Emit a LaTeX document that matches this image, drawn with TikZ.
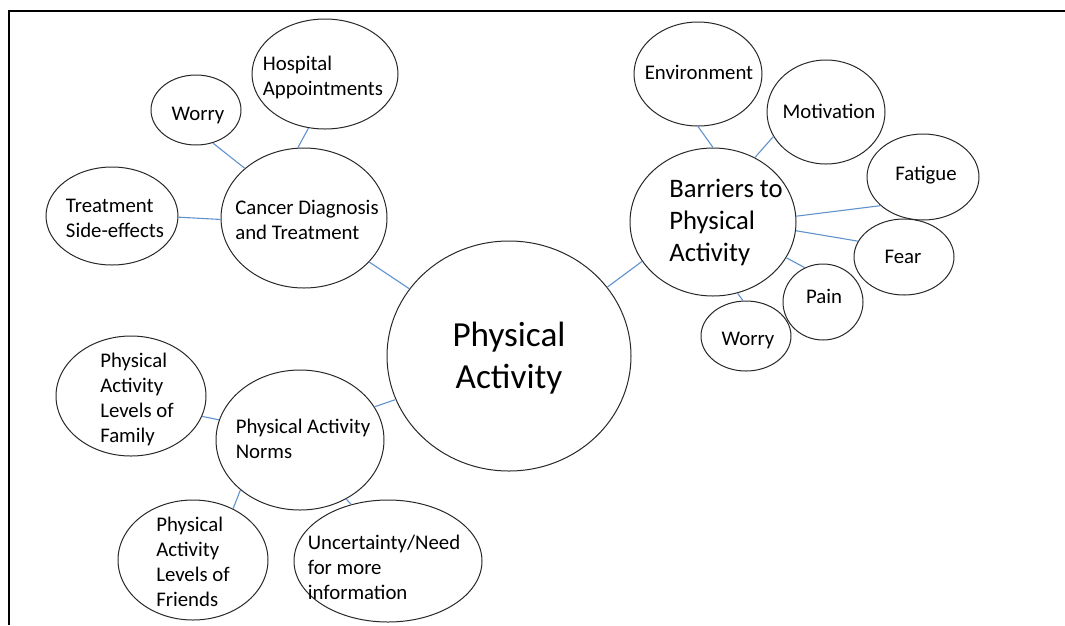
\documentclass[tikz,border=0pt]{standalone}
\usepackage{fontspec}
\setmainfont{Carlito}
\usetikzlibrary{shapes.geometric}
\definecolor{linkblue}{RGB}{96,146,206}
\definecolor{rimgray}{RGB}{40,40,40}
\tikzset{
  bubble/.style={ellipse, draw=rimgray, line width=1pt, inner sep=0pt, fill=white},
  lbl/.style={align=left, inner sep=0pt, font=\fontsize{20.8pt}{25pt}\selectfont},
  biglbl/.style={align=left, inner sep=0pt, font=\fontsize{26.7pt}{32pt}\selectfont},
  hugelbl/.style={align=center, inner sep=0pt, font=\fontsize{35.2pt}{42pt}\selectfont},
  link/.style={draw=linkblue, line width=1.1pt},
  frame/.style={draw=black, line width=2pt}
}
\begin{document}
\begin{tikzpicture}[x=1pt,y=-1pt]
\useasboundingbox (0,0) rectangle (1065,625);
% frame (top and left edges)
\coordinate (fTR) at (1065,10.5);
\coordinate (fTL) at (9,10.5);
\coordinate (fBL) at (9,625);
\draw[frame] (fTR) -- (fTL) -- (fBL);

% ellipses
\node[bubble, minimum width=146pt, minimum height=110pt] (hosp) at (325,74) {};
\node[bubble, minimum width=90pt, minimum height=70pt] (worryA) at (196,110) {};
\node[bubble, minimum width=132pt, minimum height=98pt] (treat) at (112,216) {};
\node[bubble, minimum width=166pt, minimum height=140pt] (cancer) at (304,218) {};
\node[bubble, minimum width=244pt, minimum height=230pt] (main) at (509,356) {};
\node[bubble, minimum width=166pt, minimum height=148pt] (barr) at (713,222) {};
\node[bubble, minimum width=128pt, minimum height=104pt] (env) at (698,74) {};
\node[bubble, minimum width=118pt, minimum height=104pt] (motiv) at (826,112) {};
\node[bubble, minimum width=112pt, minimum height=86pt] (fatig) at (923,177) {};
\node[bubble, minimum width=100pt, minimum height=76pt] (fear) at (904,257) {};
\node[bubble, minimum width=80pt, minimum height=76pt] (pain) at (823,302) {};
\node[bubble, minimum width=90pt, minimum height=70pt] (worryB) at (746,336) {};
\node[bubble, minimum width=150pt, minimum height=120pt] (family) at (131,396) {};
\node[bubble, minimum width=168pt, minimum height=140pt] (norms) at (300,440) {};
\node[bubble, minimum width=150pt, minimum height=120pt] (friends) at (193,560) {};
\node[bubble, minimum width=188pt, minimum height=122pt] (uncert) at (388,561) {};

% connectors
\draw[link] (worryA.-63) -- (cancer.140);
\draw[link] (hosp.-107) -- (cancer.95);
\draw[link] (treat.-1) -- (cancer.181);
\draw[link] (cancer.-34) -- (main.146);
\draw[link] (barr.209) -- (main.35);
\draw[link] (env.-90) -- (barr.90);
\draw[link] (motiv.205) -- (barr.57);
\draw[link] (barr.4) -- (fatig.214);
\draw[link] (barr.-6) -- (fear.161);
\draw[link] (barr.-26) -- (pain.118);
\draw[link] (barr.-71) -- (worryB.95);
\draw[link] (family.-16) -- (norms.166);
\draw[link] (friends.52) -- (norms.220);
\draw[link] (uncert.123) -- (norms.-52);
\draw[link] (norms.24) -- (main.201);

% labels
\node[lbl] (hospT) at (323,77) {Hospital\\Appointments};
\node[lbl] (worryAT) at (198,115) {Worry};
\node[lbl] (treatT) at (115,218) {Treatment\\Side-effects};
\node[lbl] (cancerT) at (307,220) {Cancer Diagnosis\\and Treatment};
\node[hugelbl] (mainT) at (509,358) {Physical\\Activity};
\node[biglbl] (barrT) at (726,222) {Barriers to\\Physical\\Activity};
\node[lbl] (envT) at (699,72) {Environment};
\node[lbl] (motivT) at (829,111) {Motivation};
\node[lbl] (fatigT) at (926,175) {Fatigue};
\node[lbl] (fearT) at (903,257) {Fear};
\node[lbl] (painT) at (824,296) {Pain};
\node[lbl] (worryBT) at (748,340) {Worry};
\node[lbl] (familyT) at (137,399) {Physical\\Activity\\Levels of\\Family};
\node[lbl] (normsT) at (303,439) {Physical Activity\\Norms};
\node[lbl] (friendsT) at (193,562) {Physical\\Activity\\Levels of\\Friends};
\node[lbl] (uncertT) at (384,567) {Uncertainty/Need\\for more\\information};
\end{tikzpicture}
\end{document}
